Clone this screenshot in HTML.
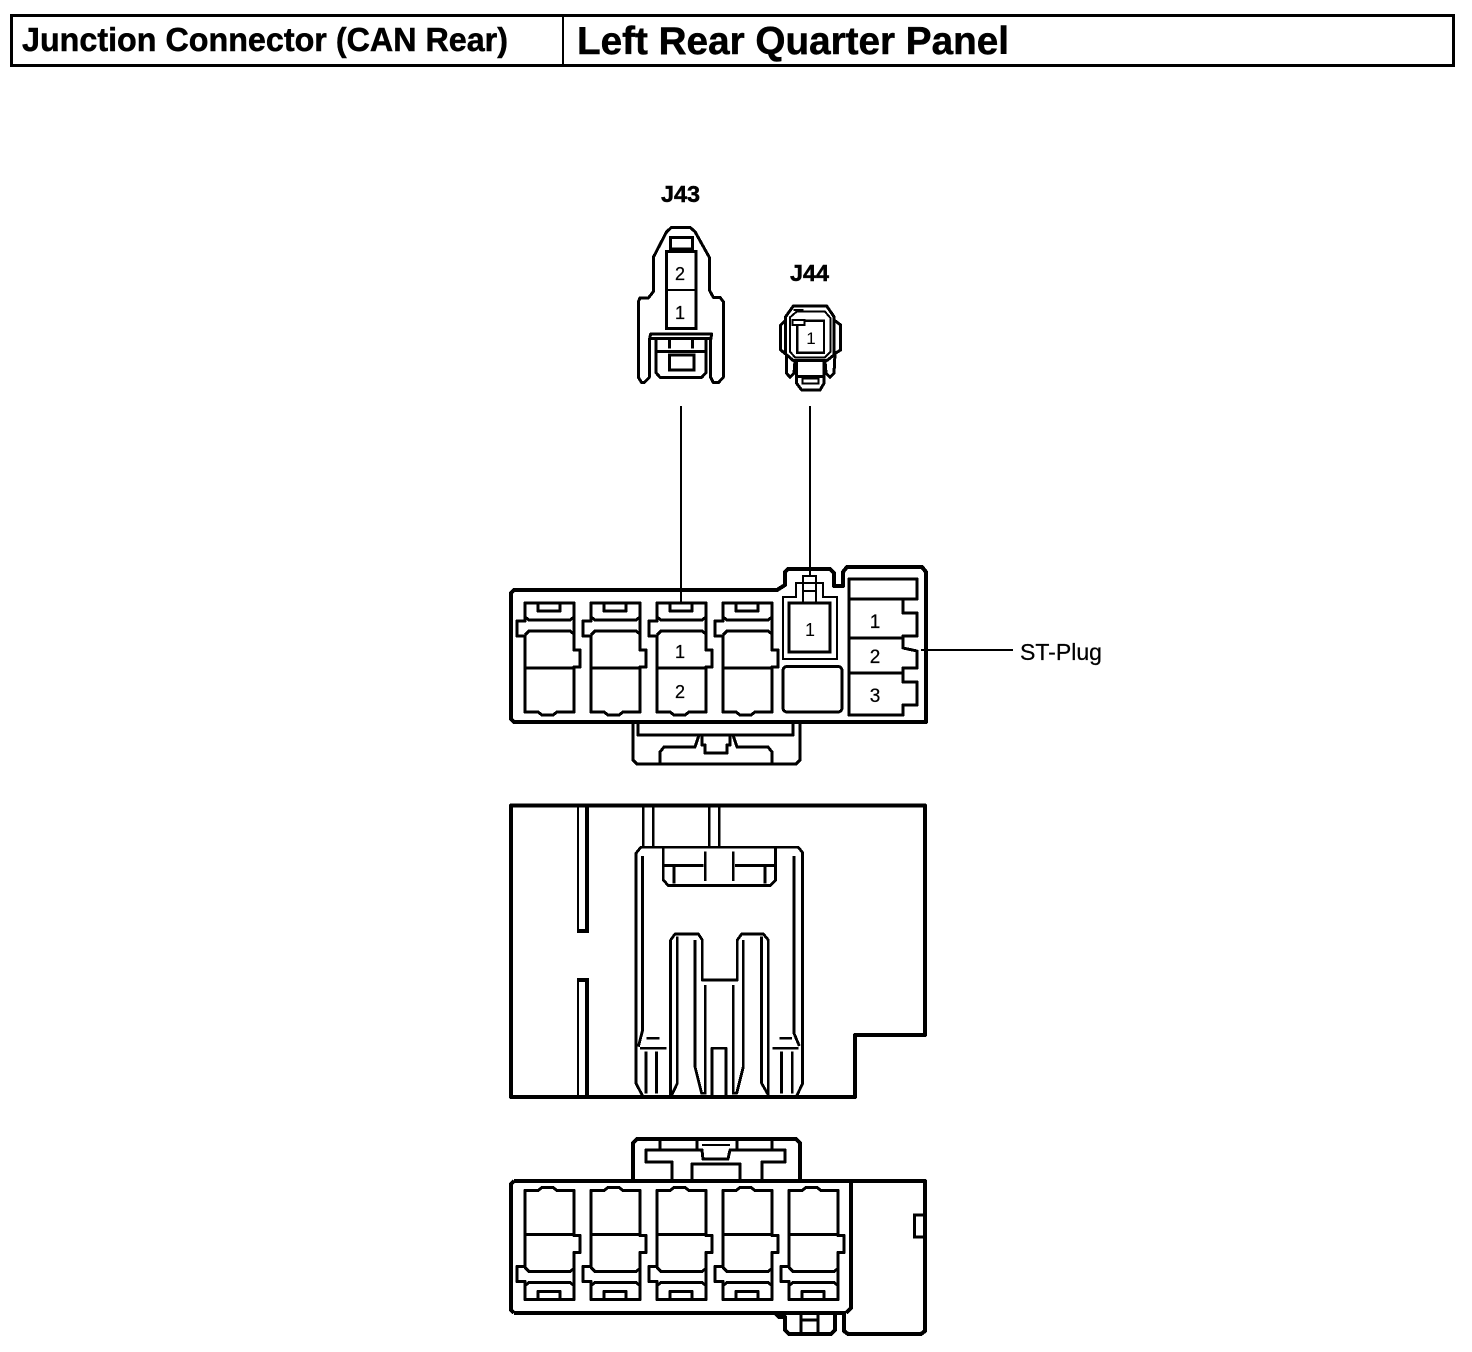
<!DOCTYPE html>
<html>
<head>
<meta charset="utf-8">
<style>
html,body{margin:0;padding:0;background:#fff;width:1472px;height:1352px;overflow:hidden}
svg{display:block}
text{font-family:"Liberation Sans",sans-serif;fill:#000}
.b{stroke:#000;stroke-width:.5px}
.n{stroke:#000;stroke-width:.25px}
.s{fill:none;stroke:#000;stroke-width:3;stroke-linejoin:round}
.o{fill:none;stroke:#000;stroke-width:4;stroke-linejoin:round}
.t{fill:none;stroke:#000;stroke-width:2}
</style>
</head>
<body>
<svg width="1472" height="1352" viewBox="0 0 1472 1352" xmlns="http://www.w3.org/2000/svg" shape-rendering="crispEdges">
<defs>
<g id="cav">
<path class="s" d="M525,603H574V650H580V667H574V712H557L553,715H542L538,712H525V636H517V621H525Z"/>
<path class="s" d="M538,603V611H560V603"/>
<path class="s" d="M525,617L529,620H570L574,617M525,635L529,631H570L574,634M525,668H574"/>
</g>
</defs>

<!-- Title -->
<rect x="11.5" y="15.5" width="1442" height="50" fill="none" stroke="#000" stroke-width="3"/>
<path d="M563,15V65" stroke="#000" stroke-width="2"/>
<text class="b" x="22" y="51" font-size="33" font-weight="bold" textLength="486" lengthAdjust="spacingAndGlyphs">Junction Connector (CAN Rear)</text>
<text class="b" x="577" y="54" font-size="39" font-weight="bold" textLength="432" lengthAdjust="spacingAndGlyphs">Left Rear Quarter Panel</text>

<text class="b" x="661" y="202" font-size="23" font-weight="bold" textLength="39" lengthAdjust="spacingAndGlyphs">J43</text>
<text class="b" x="790" y="281" font-size="23" font-weight="bold" textLength="39" lengthAdjust="spacingAndGlyphs">J44</text>

<!-- J43 / J44 -->
<g transform="translate(620 170) scale(.33333)">
<path fill="none" stroke="#000" stroke-width="9" stroke-linejoin="round" d="M55,395L60,384H85L100,365V262L140,185L155,172H210L225,185L268,262V360L280,382H300L310,395V622L295,638H280L272,622V510L275,492H92L88,510V622L72,638H65L55,622Z"/>
<path fill="none" stroke="#000" stroke-width="9" stroke-linejoin="round" d="M88,506H272M108,506V608L120,622H245L258,608V506M112,545H255M148,510V535M218,510V535"/>
<rect x="148" y="555" width="74" height="45" fill="none" stroke="#000" stroke-width="9"/>
<rect x="140" y="245" width="88" height="230" fill="none" stroke="#000" stroke-width="9"/>
<path d="M140,360H228" stroke="#000" stroke-width="5"/>
<rect x="152" y="203" width="66" height="34" fill="none" stroke="#000" stroke-width="9"/>

<path fill="none" stroke="#000" stroke-width="9" stroke-linejoin="round" d="M497,440L520,408H620L642,440V555L620,572H520L497,552Z"/>
<path fill="none" stroke="#000" stroke-width="6" stroke-linejoin="round" d="M510,442L530,425H615L632,445V545L615,562H525L510,545Z"/>
<path fill="none" stroke="#000" stroke-width="9" stroke-linejoin="round" d="M497,450L482,465V540L497,552M642,450L662,465V540L642,552M500,555V610L510,622L522,610L525,572M615,572L618,610L630,622L642,610L645,552M530,572V640L545,660H600L612,640V572M530,620H612"/>
<rect x="548" y="625" width="47" height="15" fill="none" stroke="#000" stroke-width="6"/>
<rect x="532" y="452" width="80" height="96" fill="none" stroke="#000" stroke-width="7"/>
<rect x="517" y="450" width="36" height="15" fill="#fff" stroke="#000" stroke-width="6"/>
<path d="M520,420H550" stroke="#000" stroke-width="5"/>
</g>
<text class="n" x="680" y="280" font-size="18" text-anchor="middle">2</text>
<text class="n" x="680" y="319" font-size="18" text-anchor="middle">1</text>
<text x="811" y="344" font-size="17" text-anchor="middle">1</text>

<!-- Leaders -->
<path d="M681,406V604M810,406V577M921,650H1013" stroke="#000" stroke-width="2" fill="none"/>
<text class="n" x="1020" y="660" font-size="23" textLength="82" lengthAdjust="spacingAndGlyphs">ST-Plug</text>

<!-- Top block -->
<path class="o" d="M514,590H777L785,585V572L788,569H830L834,573V586H843V572L847,567H922L926,572V722H514L511,719V593Z"/>
<use href="#cav"/>
<use href="#cav" x="66"/>
<use href="#cav" x="132"/>
<use href="#cav" x="198"/>
<text class="n" x="680" y="658" font-size="18" text-anchor="middle">1</text>
<text class="n" x="680" y="698" font-size="18" text-anchor="middle">2</text>

<path class="t" d="M783,597H796V583H803V576H816V583H823V597H837V659H783Z"/>
<path class="t" d="M803,576V603M816,576V603M803,583H816M803,591H816"/>
<rect x="789" y="603" width="41" height="49" fill="none" stroke="#000" stroke-width="3"/>
<text x="810" y="636" font-size="18" text-anchor="middle">1</text>
<rect x="783" y="666.5" width="59" height="45.5" rx="4" fill="none" stroke="#000" stroke-width="3"/>

<path class="s" d="M849,579H917V599H849ZM849,599H903V613H917V636H903V648L917,651V668H903V682H917V705H903V715H849Z"/>
<path class="s" d="M849,638H903M849,673H903"/>
<text class="n" x="875" y="628" font-size="19" text-anchor="middle">1</text>
<text class="n" x="875" y="663" font-size="19" text-anchor="middle">2</text>
<text class="n" x="875" y="702" font-size="19" text-anchor="middle">3</text>

<path class="s" d="M633,722V760L637,764H796L800,760V722M638,722V735H793V722"/>
<path class="s" d="M660,763V752L664,747H695L699,735M702,735V745H705V753H727V745H730V735M733,735L737,747H768L772,752V763"/>

<!-- Middle block -->
<path class="o" d="M511,805.5H925V1035H855V1097H511Z"/>
<path fill="none" stroke="#000" stroke-width="2" d="M578,805V930H586"/>
<path fill="none" stroke="#000" stroke-width="4" d="M587,805V931H577"/>
<path fill="none" stroke="#000" stroke-width="2" d="M578,1097V980"/>
<path fill="none" stroke="#000" stroke-width="4" d="M577,980H587V1097"/>
<g transform="translate(620 800) scale(.33333)" fill="none" stroke="#000" stroke-width="8.5" stroke-linejoin="round">
<path d="M70,15V142M100,15V142M268,15V142M298,15V142"/>
<path d="M68,888L48,850V160L62,142H535L548,158V850L530,888"/>
<path d="M68,168V690L55,740M522,168V700L538,738M60,745H140M80,715H118M78,755V880M110,755V880M458,745H536M478,715H516M485,755V880M517,755V880"/>
<path d="M130,145V240L145,257H450L467,240V145M130,197H250M345,197H467M256,155V243M340,155V243M162,197V250M435,197V250"/>
<path d="M152,890V420L165,402H235L247,420V540H352V420L365,402H430L445,420V885"/>
<path d="M172,410V850L155,885M225,420V800L245,880H256V555M340,555V880H350L370,800V420M425,410V850L445,885"/>
<path d="M276,890V745H318V890"/>
</g>

<!-- Bottom block -->
<path class="o" d="M633,1181V1143L637,1139H796L800,1143V1181"/>
<path class="s" d="M660,1139V1149M697,1139V1149M737,1139V1149M772,1139V1149"/>
<path class="s" d="M672,1180V1162H646V1150H702L703,1159H728L730,1150H785V1162H762V1180M740,1180V1164H692V1180"/>
<path d="M702,1145H730" stroke="#000" stroke-width="2"/>
<path class="o" d="M514,1181H925V1331L921,1334H848L844,1331V1313H775L779,1317H785V1330L789,1334H831L835,1330V1313H844M851,1181V1308L846,1313M514,1313H775M514,1313L511,1310V1184L514,1181"/>
<path class="s" d="M801,1313V1334M818,1313V1334M801,1320H818"/>
<rect x="914.5" y="1215" width="10" height="22" fill="none" stroke="#000" stroke-width="3"/>
<g transform="translate(0 1902.5) scale(1 -1)">
<use href="#cav"/>
<use href="#cav" x="66"/>
<use href="#cav" x="132"/>
<use href="#cav" x="198"/>
<use href="#cav" x="264"/>
</g>
</svg>
</body>
</html>
